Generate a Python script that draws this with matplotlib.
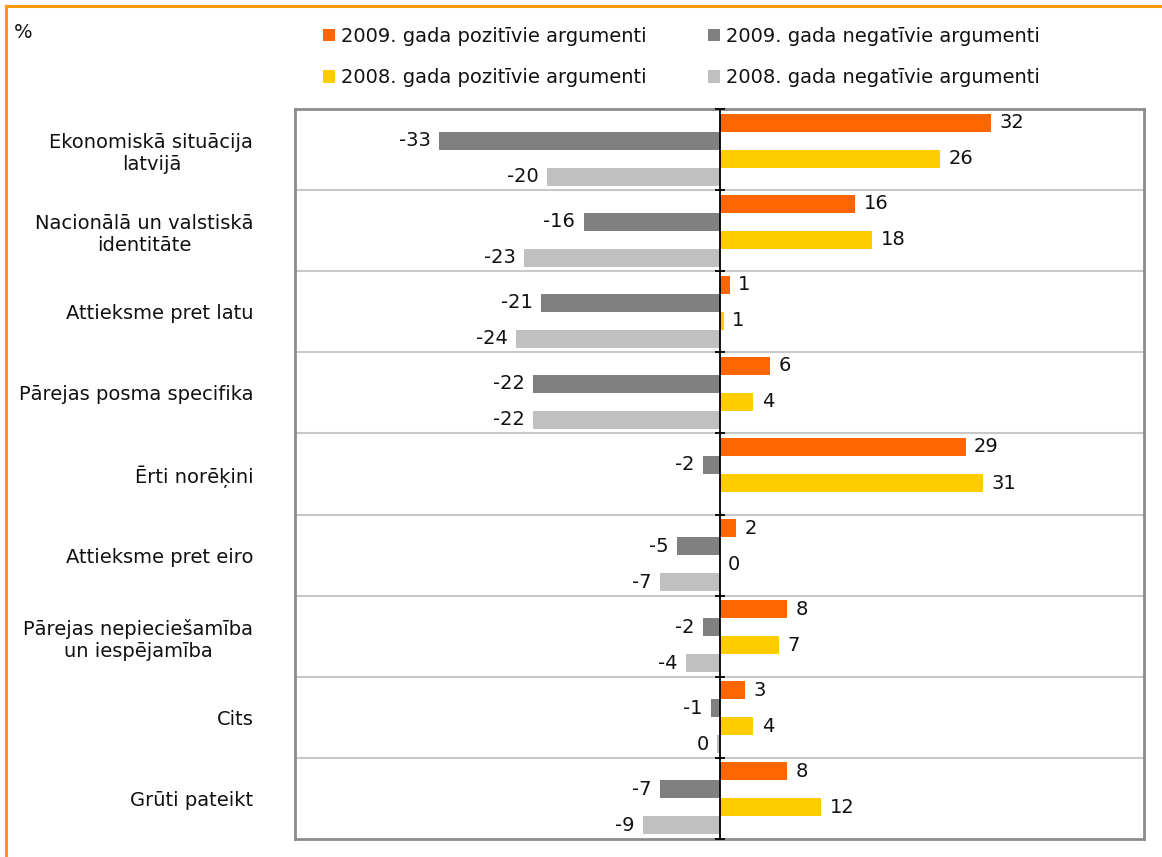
import numpy as np
import matplotlib
matplotlib.use("Agg")
import matplotlib.pyplot as plt
from matplotlib.lines import Line2D

plt.rcParams['font.family'] = ['DejaVu Sans']

categories = [
    "Ekonomiskā situācija\nlatvijā",
    "Nacionālā un valstiskā\nidentitāte",
    "Attieksme pret latu",
    "Pārejas posma specifika",
    "Ērti norēķini",
    "Attieksme pret eiro",
    "Pārejas nepieciešamība\nun iespējamība",
    "Cits",
    "Grūti pateikt",
]
pos_2009 = [32, 16, 1.2, 6, 29, 2, 8, 3, 8]
neg_2009 = [-33, -16, -21, -22, -2, -5, -2, -1, -7]
pos_2008 = [26, 18, 0.5, 4, 31, 0, 7, 4, 12]
neg_2008 = [-20.3, -23, -24, -22, 0, -7, -4, -0.3, -9]

series_names = [
    "2009. gada pozitīvie argumenti",
    "2009. gada negatīvie argumenti",
    "2008. gada pozitīvie argumenti",
    "2008. gada negatīvie argumenti",
]
colors = ["#FF6600", "#808080", "#FFCC00", "#C0C0C0"]
series = [pos_2009, neg_2009, pos_2008, neg_2008]

FS = 14
TXT = "#111111"
fig = plt.figure(figsize=(11.62, 8.57), dpi=100)
ax = fig.add_axes([295/1162, 1-839/857, (1144-295)/1162, (839-109)/857])

y = np.arange(len(categories))
h = 0.222
offsets = [-1.5*h, -0.5*h, 0.5*h, 1.5*h]

def fmt(v):
    r = int(np.floor(abs(v) + 0.5))
    if r == 0:
        return "0"
    return ("-" if v < 0 else "") + str(r)

handles = []
for vals, off, c, name in zip(series, offsets, colors, series_names):
    bars = ax.barh(y + off, vals, height=h, color=c, label=name, zorder=3)
    handles.append(bars)
    is_neg = name.endswith("negatīvie argumenti")
    for b, v in zip(bars, vals):
        if is_neg and v == 0:
            continue
        yc = b.get_y() + b.get_height()/2
        if not is_neg:
            ax.annotate(fmt(v), (v, yc), xytext=(6, 0), textcoords="offset points",
                        ha="left", va="center", fontsize=FS, color=TXT)
        else:
            ax.annotate(fmt(v), (v, yc), xytext=(-6, 0), textcoords="offset points",
                        ha="right", va="center", fontsize=FS, color=TXT)

ax.set_xlim(-50, 50)
ax.set_ylim(len(categories) - 0.5, -0.5)

for b in np.arange(0.5, len(categories) - 0.5, 1.0):
    ax.axhline(b, color="#C8C8C8", lw=1.5, zorder=1)

ax.axvline(0, color="black", lw=1.3, zorder=4)
bounds = np.arange(-0.5, len(categories) + 0.5, 1.0)
ax.plot(np.zeros_like(bounds), bounds, linestyle="none", marker="_",
        markersize=7, markeredgewidth=1.3, color="black", zorder=5, clip_on=False)

ax.set_xticks([])
ax.set_yticks(y)
ax.set_yticklabels(categories, fontsize=FS, color=TXT)
for t in ax.get_yticklabels():
    t.set_multialignment("center")
ax.tick_params(axis="y", length=0, pad=30)

for s in ax.spines.values():
    s.set_color("#8C8C8C")
    s.set_linewidth(2)

order = [0, 2, 1, 3]
leg = fig.legend([handles[i] for i in order], [series_names[i] for i in order],
                 ncol=2, loc="upper left", bbox_to_anchor=(323/1162, 1-27/857),
                 frameon=False, fontsize=FS, handlelength=0.62, handleheight=0.62,
                 handletextpad=0.3, columnspacing=3.15, labelspacing=1.15,
                 borderaxespad=0, borderpad=0)
for t in leg.get_texts():
    t.set_color(TXT)

fig.text(14/1162, 1-32/857, "%", fontsize=FS, va="center", ha="left", color=TXT)

fig.add_artist(Line2D([6/1162, 1.0], [1-6/857, 1-6/857], transform=fig.transFigure,
                      color="#FF9900", lw=2.2))
fig.add_artist(Line2D([6/1162, 6/1162], [0, 1-6/857], transform=fig.transFigure,
                      color="#FF9900", lw=2.2))

fig.savefig("out.png", dpi=100)
